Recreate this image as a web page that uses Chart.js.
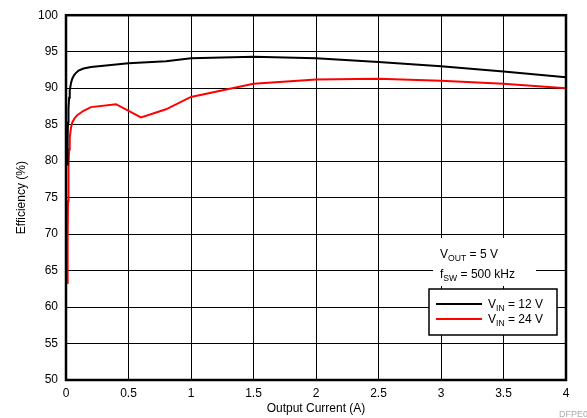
<!DOCTYPE html>
<html>
<head>
<meta charset="utf-8">
<script src="https://cdn.jsdelivr.net/npm/chart.js@4.4.0/dist/chart.umd.min.js"></script>
<style>
  html, body { margin: 0; padding: 0; background: #fff; }
  #wrap { width: 587px; height: 418px; }
</style>
</head>
<body>
<div id="wrap"><canvas id="chart" width="587" height="418"></canvas></div>
<script>
// Efficiency vs output current
const currentVin12 = [0.01, 0.013, 0.016, 0.02, 0.025, 0.03, 0.04, 0.05, 0.065, 0.08, 0.1, 0.14, 0.2, 0.5, 0.8, 1.0, 1.5, 2.0, 2.5, 3.0, 3.5, 4.0];
const effVin12 = [79.5, 83.0, 85.3, 87.2, 88.7, 89.7, 90.7, 91.3, 91.8, 92.1, 92.4, 92.7, 92.9, 93.4, 93.7, 94.1, 94.3, 94.1, 93.6, 93.0, 92.3, 91.5];

const currentVin24 = [0.01, 0.013, 0.016, 0.02, 0.025, 0.03, 0.04, 0.05, 0.07, 0.09, 0.14, 0.2, 0.4, 0.6, 0.8, 1.0, 1.5, 2.0, 2.5, 3.0, 3.5, 4.0];
const effVin24 = [63.3, 69.0, 74.5, 79.0, 81.6, 83.2, 84.6, 85.3, 85.9, 86.3, 86.9, 87.4, 87.8, 86.0, 87.1, 88.8, 90.6, 91.2, 91.3, 91.0, 90.6, 90.0];

const xTicks = [0, 0.5, 1, 1.5, 2, 2.5, 3, 3.5, 4];
const yTicks = [50, 55, 60, 65, 70, 75, 80, 85, 90, 95, 100];

const FONT = 'Liberation Sans, Arial, sans-serif';

// text with a subscript part: [main, sub, rest]
function drawSub(ctx, x, y, parts, size) {
    ctx.textBaseline = 'alphabetic';
    ctx.textAlign = 'left';
    ctx.font = `${size}px ${FONT}`;
    ctx.fillText(parts[0], x, y);
    x += ctx.measureText(parts[0]).width;
    ctx.font = `${size * 0.72}px ${FONT}`;
    ctx.fillText(parts[1], x, y + 3);
    x += ctx.measureText(parts[1]).width;
    ctx.font = `${size}px ${FONT}`;
    ctx.fillText(parts[2], x, y);
}

const annotations = {
    id: 'annotations',
    beforeDatasetsDraw(chart) {
        const ctx = chart.ctx;
        ctx.save();
        ctx.fillStyle = '#fff';
        ctx.fillRect(433, 238, 103, 48);
        ctx.fillStyle = '#000';
        drawSub(ctx, 440, 258, ['V', 'OUT', ' = 5 V'], 12);
        drawSub(ctx, 440, 278, ['f', 'SW', ' = 500 kHz'], 12);
        ctx.restore();
    },
    afterDraw(chart) {
        const ctx = chart.ctx;
        const a = chart.chartArea;
        ctx.save();
        // frame
        ctx.strokeStyle = '#000';
        ctx.lineWidth = 2.5;
        ctx.strokeRect(a.left, a.top, a.right - a.left, a.bottom - a.top);

        // legend box
        ctx.fillStyle = '#fff';
        ctx.fillRect(429, 289, 128, 46);
        ctx.lineWidth = 1.5;
        ctx.strokeRect(429, 289, 128, 46);
        ctx.lineWidth = 2;
        ctx.strokeStyle = '#000';
        ctx.beginPath(); ctx.moveTo(436, 304); ctx.lineTo(482, 304); ctx.stroke();
        ctx.strokeStyle = '#ff0000';
        ctx.beginPath(); ctx.moveTo(436, 319); ctx.lineTo(482, 319); ctx.stroke();
        ctx.fillStyle = '#000';
        drawSub(ctx, 488, 308, ['V', 'IN', ' = 12 V'], 12);
        drawSub(ctx, 488, 323, ['V', 'IN', ' = 24 V'], 12);

        // document code, cut at the edge
        ctx.fillStyle = '#aaa';
        ctx.font = `9px ${FONT}`;
        ctx.textAlign = 'left';
        ctx.textBaseline = 'alphabetic';
        ctx.fillText('DFPE021', 559, 417);
        ctx.restore();
    }
};

new Chart(document.getElementById('chart'), {
    type: 'line',
    data: {
        datasets: [{
            label: 'VIN = 12 V',
            data: currentVin12.map((x, i) => ({ x, y: effVin12[i] })),
            borderColor: '#000',
            borderWidth: 2,
            pointRadius: 0,
            tension: 0
        }, {
            label: 'VIN = 24 V',
            data: currentVin24.map((x, i) => ({ x, y: effVin24[i] })),
            borderColor: '#ff0000',
            borderWidth: 2,
            pointRadius: 0,
            tension: 0
        }]
    },
    options: {
        responsive: false,
        animation: false,
        layout: { padding: { left: 0, right: 21, top: 15, bottom: 0 } },
        plugins: {
            legend: { display: false },
            tooltip: { enabled: false }
        },
        scales: {
            x: {
                type: 'linear',
                min: 0,
                max: 4,
                afterBuildTicks: (scale) => { scale.ticks = xTicks.map(v => ({ value: v })); },
                afterFit: (scale) => { scale.height = 38; },
                grid: { color: '#000', lineWidth: 1, drawTicks: false },
                border: { display: false },
                ticks: { color: '#000', padding: 6, font: { family: FONT, size: 12 }, callback: (v) => String(v) },
                title: {
                    display: true,
                    text: 'Output Current (A)',
                    color: '#000',
                    padding: { top: 0, bottom: 2 },
                    font: { family: FONT, size: 12 }
                }
            },
            y: {
                min: 50,
                max: 100,
                afterBuildTicks: (scale) => { scale.ticks = yTicks.map(v => ({ value: v })); },
                afterFit: (scale) => { scale.width = 66; },
                grid: { color: '#000', lineWidth: 1, drawTicks: false },
                border: { display: false },
                ticks: { color: '#000', padding: 8, font: { family: FONT, size: 12 }, callback: (v) => String(v) },
                title: {
                    display: true,
                    text: 'Efficiency (%)',
                    color: '#000',
                    padding: { top: 14, bottom: 0 },
                    font: { family: FONT, size: 12 }
                }
            }
        }
    },
    plugins: [annotations]
});
</script>
</body>
</html>
